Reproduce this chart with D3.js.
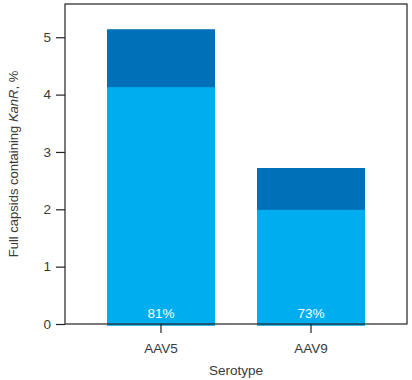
<!DOCTYPE html>
<html>
<head>
<meta charset="utf-8">
<script src="https://cdn.jsdelivr.net/npm/d3@7"></script>
<style>
  body { margin: 0; background: #fff; }
  text { font-family: "Liberation Sans", Arial, sans-serif; fill: #3a3a3a; }
</style>
</head>
<body>
<svg id="chart" width="412" height="380"></svg>
<script>
// data
const serotypes = ["AAV5", "AAV9"];
const totalValues = [5.14, 2.72];   // whole bar
const lowerValues = [4.13, 1.99];   // light part
const pctLabels = ["81%", "73%"];
const yTicks = [0, 1, 2, 3, 4, 5];

const svg = d3.select("#chart");
const plotL = 65, plotR = 407, plotT = 4, plotB = 324;

const x = d3.scaleBand().domain(serotypes).range([plotL, plotR])
  .paddingInner(0.28).paddingOuter(0.28);
const y = d3.scaleLinear().domain([0, 5]).range([plotB, plotB - 5 * 57.35]);

const rows = serotypes.map((s, i) => ({ s, total: totalValues[i], lower: lowerValues[i], pct: pctLabels[i] }));

// bars (dark full height first, light lower part over it)
svg.selectAll("rect.top").data(rows).enter().append("rect")
  .attr("x", d => x(d.s)).attr("width", x.bandwidth())
  .attr("y", d => y(d.total)).attr("height", d => y(0) - y(d.total) + 1.5)
  .attr("fill", "#0071b9");
svg.selectAll("rect.low").data(rows).enter().append("rect")
  .attr("x", d => x(d.s)).attr("width", x.bandwidth())
  .attr("y", d => y(d.lower)).attr("height", d => y(0) - y(d.lower) + 1.5)
  .attr("fill", "#00aeef");

svg.selectAll("text.pct").data(rows).enter().append("text")
  .attr("x", d => x(d.s) + x.bandwidth() / 2).attr("y", plotB - 6)
  .attr("text-anchor", "middle").attr("font-size", 13.5)
  .style("fill", "#fff").text(d => d.pct);

// frame
svg.append("rect").attr("x", plotL).attr("y", plotT)
  .attr("width", plotR - plotL).attr("height", plotB - plotT)
  .attr("fill", "none").attr("stroke", "#222").attr("stroke-width", 1.2);

// y axis
const ya = svg.append("g").attr("transform", `translate(${plotL},0)`)
  .call(d3.axisLeft(y).tickValues(yTicks).tickFormat(d3.format("d")).tickSize(9).tickPadding(5));
ya.select(".domain").remove();
ya.selectAll("line").attr("stroke", "#222").attr("stroke-width", 1.2);
ya.selectAll("text").attr("font-size", 13.5).style("fill", "#3a3a3a")
  .attr("font-family", "Liberation Sans, Arial, sans-serif");

// x axis
const xa = svg.append("g").attr("transform", `translate(0,${plotB})`)
  .call(d3.axisBottom(x).tickSize(9).tickPadding(10));
xa.select(".domain").remove();
xa.selectAll("line").attr("stroke", "#222").attr("stroke-width", 1.2);
xa.selectAll("text").attr("font-size", 13.5).style("fill", "#3a3a3a")
  .attr("font-family", "Liberation Sans, Arial, sans-serif");

// axis titles
svg.append("text").attr("x", (plotL + plotR) / 2).attr("y", 375)
  .attr("text-anchor", "middle").attr("font-size", 13.5).text("Serotype");

const yl = svg.append("text")
  .attr("transform", `translate(18,${(plotT + plotB) / 2}) rotate(-90)`)
  .attr("text-anchor", "middle").attr("font-size", 13);
yl.append("tspan").text("Full capsids containing ");
yl.append("tspan").attr("font-style", "italic").text("KanR");
yl.append("tspan").text(", %");
</script>
</body>
</html>
